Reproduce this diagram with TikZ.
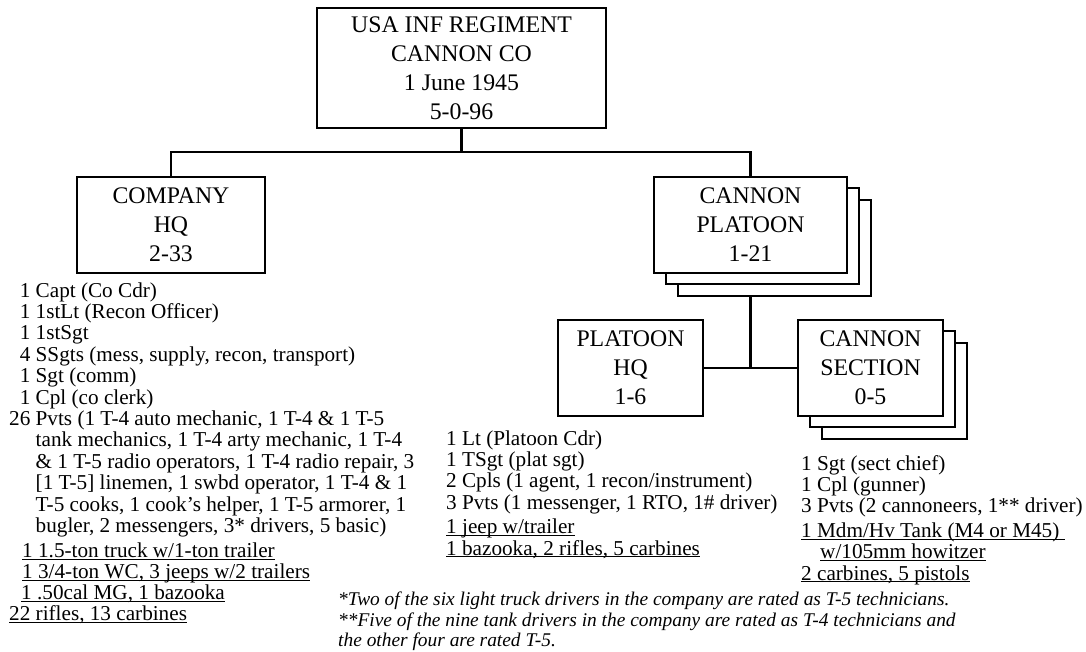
\documentclass[tikz,border=0pt]{standalone}
\usepackage{fontspec}
\setmainfont{Liberation Serif}
\usetikzlibrary{positioning}

\newcommand\boxfont{\fontsize{23.8}{29}\selectfont}
\newcommand\listfont{\fontsize{21.2}{21.4}\selectfont}
\newcommand\notefont{\fontsize{19.4}{20.2}\selectfont\itshape}
\newcommand\equip[1]{\underline{\smash{#1}}}

\begin{document}
\begin{tikzpicture}[
    x=1pt, y=-1pt,
    unit/.style={draw, line width=1.8pt, fill=white, align=center,
                 inner sep=0pt, font=\boxfont},
    back/.style={draw, line width=1.8pt, fill=white, inner sep=0pt},
    link/.style={line width=2.8pt},
    list/.style={anchor=north west, inner sep=0pt, font=\listfont},
  ]
  \useasboundingbox (0,0) rectangle (1086,651);
  %% ---- Top unit ----
  \node[unit, minimum width=289pt, minimum height=120pt] (co) at (461.5,68)
    {USA INF REGIMENT\\CANNON CO\\1 June 1945\\5-0-96};
  %% ---- Second level ----
  \node[unit, minimum width=188pt, minimum height=96pt] (hq) at (171,225)
    {COMPANY\\HQ\\2-33};
  % Cannon platoon (three of them, stacked)
  \node[back, minimum width=193pt, minimum height=96pt] (plt3) at (774.5,248) {};
  \node[back, minimum width=193pt, minimum height=96pt] (plt2) at (762.5,236) {};
  \node[unit, minimum width=193pt, minimum height=96pt] (plt) at (750.5,225)
    {CANNON\\PLATOON\\1-21};
  %% ---- Third level ----
  \node[unit, minimum width=145pt, minimum height=96pt] (phq) at (630.5,368)
    {PLATOON\\HQ\\1-6};
  % Cannon section (stacked)
  \node[back, minimum width=145pt, minimum height=96pt] (sec3) at (894.5,391) {};
  \node[back, minimum width=145pt, minimum height=96pt] (sec2) at (882.5,379) {};
  \node[unit, minimum width=145pt, minimum height=96pt] (sec) at (870.5,368)
    {CANNON\\SECTION\\0-5};
  %% ---- Connectors ----
  \coordinate (bus) at (461.5,152);
  \coordinate (jn) at (750.5,368);
  \draw[link] (co.south) -- (bus);
  \draw[link] (hq.north) |- (bus) -| (plt.north);
  \draw[link] (plt.south |- plt3.south) -- (jn);
  \draw[link] (phq.east) -- (sec.west);
  %% ---- Personnel and equipment ----
  \node[list] (hqlist) at (9,282) {%
    \begin{tabular}{@{}r@{\ }l@{}}
      1  & Capt (Co Cdr)\\
      1  & 1stLt (Recon Officer)\\
      1  & 1stSgt\\
      4  & SSgts (mess, supply, recon, transport)\\
      1  & Sgt (comm)\\
      1  & Cpl (co clerk)\\
      26 & Pvts (1 T-4 auto mechanic, 1 T-4 \& 1 T-5\\
         & tank mechanics, 1 T-4 arty mechanic, 1 T-4\\
         & \& 1 T-5 radio operators, 1 T-4 radio repair, 3\\
         & [1 T-5] linemen, 1 swbd operator, 1 T-4 \& 1\\
         & T-5 cooks, 1 cook’s helper, 1 T-5 armorer, 1\\
         & bugler, 2 messengers, 3* drivers, 5 basic)\\[4pt]
      \multicolumn{2}{@{}l@{}}{\hspace*{13pt}\equip{1 1.5-ton truck w/1-ton trailer}}\\[-0.6pt]
      \multicolumn{2}{@{}l@{}}{\hspace*{13pt}\equip{1 3/4-ton WC, 3 jeeps w/2 trailers}}\\[-0.6pt]
      \multicolumn{2}{@{}l@{}}{\hspace*{12pt}\equip{1 .50cal MG, 1 bazooka}}\\[-0.6pt]
      \multicolumn{2}{@{}l@{}}{\equip{22 rifles, 13 carbines}}
    \end{tabular}};
  \node[list] (phqlist) at (446,430) {%
    \begin{tabular}{@{}l@{}}
      1 Lt (Platoon Cdr)\\
      1 TSgt (plat sgt)\\
      2 Cpls (1 agent, 1 recon/instrument)\\
      3 Pvts (1 messenger, 1 RTO, 1\# driver)\\[3pt]
      \equip{1 jeep w/trailer}\\
      \equip{1 bazooka, 2 rifles, 5 carbines}
    \end{tabular}};
  \node[list] (seclist) at (801,455) {%
    \begin{tabular}{@{}l@{}}
      1 Sgt (sect chief)\\
      1 Cpl (gunner)\\
      3 Pvts (2 cannoneers, 1** driver)\\[3pt]
      \equip{1 Mdm/Hv Tank (M4 or M45)\ }\\
      \hspace*{19pt}\equip{w/105mm howitzer}\\
      \equip{2 carbines, 5 pistols}
    \end{tabular}};
  %% ---- Notes ----
  \node[list, align=left, font=\notefont] (notes) at (338,592)
    {*Two of the six light truck drivers in the company are rated as T-5 technicians.\\
     **Five of the nine tank drivers in the company are rated as T-4 technicians and\\
     the other four are rated T-5.};
\end{tikzpicture}
\end{document}
